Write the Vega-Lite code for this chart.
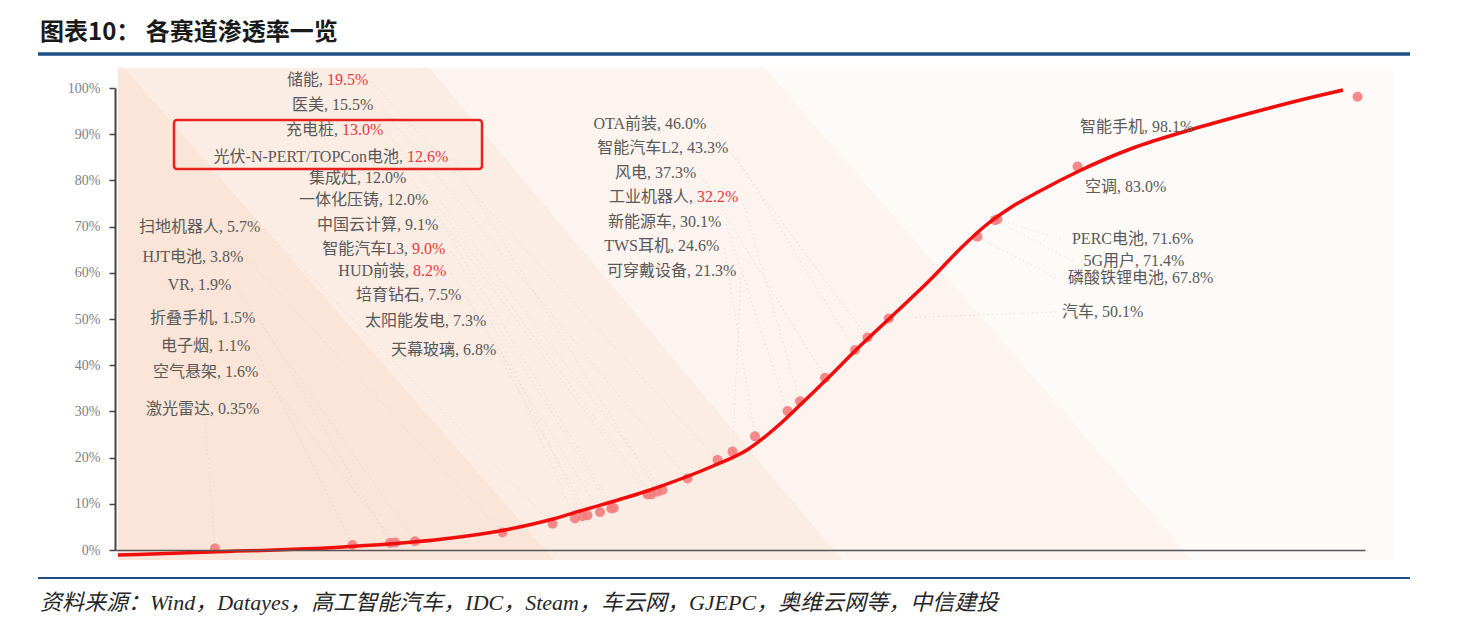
{
  "$schema": "https://vega.github.io/schema/vega-lite/v6.json",
  "width": 1250,
  "height": 462,
  "autosize": {"type": "none"},
  "padding": {"left": 115, "top": 88, "right": 105, "bottom": 78},
  "background": "white",
  "config": {"view": {"stroke": null}, "font": "Liberation Serif, Noto Sans CJK SC"},
  "resolve": {"axis": {"x": "independent", "y": "independent"}},
  "datasets": {
    "bands": [
      {"band": "b1", "yy": 104.33, "xl": 0.24, "xr": 0.8},
      {"band": "b1", "yy": -2.16, "xl": 0.24, "xr": 35.2},
      {"band": "b2", "yy": 104.33, "xl": 0.8, "xr": 25.2},
      {"band": "b2", "yy": -2.16, "xl": 35.2, "xr": 58.2},
      {"band": "b3", "yy": 104.33, "xl": 25.2, "xr": 52.0},
      {"band": "b3", "yy": -2.16, "xl": 58.2, "xr": 86.2},
      {"band": "b4", "yy": 104.33, "xl": 52.0, "xr": 102.2},
      {"band": "b4", "yy": -2.16, "xl": 86.2, "xr": 102.2}
    ],
    "curve": [
      {"cx": 0.24, "cy": -1.08}, {"cx": 7.6, "cy": -0.43}, {"cx": 18.24, "cy": 0.65},
      {"cx": 26.24, "cy": 2.38}, {"cx": 31.6, "cy": 4.55}, {"cx": 35.04, "cy": 6.71},
      {"cx": 37.2, "cy": 8.44}, {"cx": 42.56, "cy": 12.77}, {"cx": 47.84, "cy": 18.18},
      {"cx": 50.56, "cy": 21.65}, {"cx": 53.2, "cy": 27.27}, {"cx": 54.64, "cy": 30.95},
      {"cx": 57.12, "cy": 37.45}, {"cx": 59.28, "cy": 43.29}, {"cx": 62.08, "cy": 50.43},
      {"cx": 65.44, "cy": 59.09}, {"cx": 67.6, "cy": 65.15}, {"cx": 69.6, "cy": 70.13},
      {"cx": 71.6, "cy": 74.03}, {"cx": 74.0, "cy": 77.71}, {"cx": 76.96, "cy": 81.82},
      {"cx": 81.44, "cy": 87.01}, {"cx": 86.0, "cy": 90.91}, {"cx": 90.56, "cy": 94.37},
      {"cx": 95.84, "cy": 98.05}, {"cx": 98.24, "cy": 99.57}
    ],
    "items": [
      {"name": "激光雷达", "value": 0.35, "pct": "0.35%", "hl": false, "pos": 8.0, "lx": 8.24, "ly": 30.52, "sx": 7.2, "sy": 28.57},
      {"name": "电子烟", "value": 1.1, "pct": "1.1%", "hl": false, "pos": 19.0, "lx": 8.16, "ly": 44.16, "sx": 11.2, "sy": 43.72},
      {"name": "折叠手机", "value": 1.5, "pct": "1.5%", "hl": false, "pos": 22.0, "lx": 8.56, "ly": 50.22, "sx": 11.68, "sy": 49.78},
      {"name": "空气悬架", "value": 1.6, "pct": "1.6%", "hl": false, "pos": 22.4, "lx": 8.8, "ly": 38.53, "sx": 11.84, "sy": 38.1},
      {"name": "VR", "value": 1.9, "pct": "1.9%", "hl": false, "pos": 24.0, "lx": 6.64, "ly": 57.36, "sx": 9.6, "sy": 56.93},
      {"name": "HJT电池", "value": 3.8, "pct": "3.8%", "hl": false, "pos": 31.0, "lx": 7.6, "ly": 63.42, "sx": 10.56, "sy": 62.99},
      {"name": "扫地机器人", "value": 5.7, "pct": "5.7%", "hl": false, "pos": 35.0, "lx": 8.96, "ly": 69.91, "sx": 11.92, "sy": 69.48},
      {"name": "天幕玻璃", "value": 6.8, "pct": "6.8%", "hl": false, "pos": 36.8, "lx": 27.84, "ly": 43.29, "sx": 30.96, "sy": 42.86},
      {"name": "太阳能发电", "value": 7.3, "pct": "7.3%", "hl": false, "pos": 37.4, "lx": 27.04, "ly": 49.57, "sx": 30.16, "sy": 49.13},
      {"name": "培育钻石", "value": 7.5, "pct": "7.5%", "hl": false, "pos": 37.8, "lx": 25.04, "ly": 55.19, "sx": 28.16, "sy": 54.76},
      {"name": "HUD前装", "value": 8.2, "pct": "8.2%", "hl": true, "pos": 38.8, "lx": 23.84, "ly": 60.39, "sx": 26.88, "sy": 59.96},
      {"name": "智能汽车L3", "value": 9.0, "pct": "9.0%", "hl": true, "pos": 39.7, "lx": 23.76, "ly": 65.15, "sx": 26.88, "sy": 64.72},
      {"name": "中国云计算", "value": 9.1, "pct": "9.1%", "hl": false, "pos": 39.9, "lx": 23.2, "ly": 70.35, "sx": 26.32, "sy": 69.91},
      {"name": "集成灶", "value": 12.0, "pct": "12.0%", "hl": false, "pos": 42.6, "lx": 20.0, "ly": 80.52, "sx": 23.68, "sy": 80.09},
      {"name": "一体化压铸", "value": 12.0, "pct": "12.0%", "hl": false, "pos": 42.9, "lx": 21.76, "ly": 75.76, "sx": 25.52, "sy": 75.32},
      {"name": "光伏-N-PERT/TOPCon电池", "value": 12.6, "pct": "12.6%", "hl": true, "pos": 43.4, "lx": 23.36, "ly": 85.06, "sx": 26.96, "sy": 84.63},
      {"name": "充电桩", "value": 13.0, "pct": "13.0%", "hl": true, "pos": 43.8, "lx": 18.16, "ly": 90.91, "sx": 21.76, "sy": 90.48},
      {"name": "医美", "value": 15.5, "pct": "15.5%", "hl": false, "pos": 45.8, "lx": 17.36, "ly": 96.32, "sx": 21.28, "sy": 95.89},
      {"name": "储能", "value": 19.5, "pct": "19.5%", "hl": true, "pos": 48.2, "lx": 16.96, "ly": 101.73, "sx": 20.56, "sy": 101.3},
      {"name": "可穿戴设备", "value": 21.3, "pct": "21.3%", "hl": false, "pos": 49.4, "lx": 46.4, "ly": 60.39, "sx": 50.08, "sy": 59.96},
      {"name": "TWS耳机", "value": 24.6, "pct": "24.6%", "hl": false, "pos": 51.2, "lx": 45.04, "ly": 65.8, "sx": 48.72, "sy": 65.37},
      {"name": "新能源车", "value": 30.1, "pct": "30.1%", "hl": false, "pos": 53.8, "lx": 45.2, "ly": 71.0, "sx": 48.88, "sy": 70.56},
      {"name": "工业机器人", "value": 32.2, "pct": "32.2%", "hl": true, "pos": 54.8, "lx": 46.56, "ly": 76.41, "sx": 50.16, "sy": 75.97},
      {"name": "风电", "value": 37.3, "pct": "37.3%", "hl": false, "pos": 56.8, "lx": 43.2, "ly": 81.6, "sx": 46.88, "sy": 81.17},
      {"name": "智能汽车L2", "value": 43.3, "pct": "43.3%", "hl": false, "pos": 59.2, "lx": 45.76, "ly": 87.01, "sx": 49.36, "sy": 86.58},
      {"name": "OTA前装", "value": 46.0, "pct": "46.0%", "hl": false, "pos": 60.2, "lx": 44.0, "ly": 92.21, "sx": 47.68, "sy": 91.77},
      {"name": "汽车", "value": 50.1, "pct": "50.1%", "hl": false, "pos": 61.9, "lx": 78.96, "ly": 51.52, "sx": 75.28, "sy": 51.52},
      {"name": "磷酸铁锂电池", "value": 67.8, "pct": "67.8%", "hl": false, "pos": 69.0, "lx": 84.56, "ly": 58.87, "sx": 75.28, "sy": 58.87},
      {"name": "5G用户", "value": 71.4, "pct": "71.4%", "hl": false, "pos": 70.4, "lx": 82.24, "ly": 62.55, "sx": 76.64, "sy": 62.55},
      {"name": "PERC电池", "value": 71.6, "pct": "71.6%", "hl": false, "pos": 70.6, "lx": 82.96, "ly": 67.32, "sx": 75.68, "sy": 67.32},
      {"name": "空调", "value": 83.0, "pct": "83.0%", "hl": false, "pos": 77.0, "lx": 80.8, "ly": 78.57, "sx": null, "sy": null},
      {"name": "智能手机", "value": 98.1, "pct": "98.1%", "hl": false, "pos": 99.4, "lx": 82.96, "ly": 91.56, "sx": null, "sy": null}
    ]
  },
  "layer": [
    {
      "data": {"name": "bands"},
      "mark": {"type": "area", "orient": "horizontal"},
      "encoding": {
        "y": {"field": "yy", "type": "quantitative", "scale": {"domain": [0, 100], "nice": false}, "title": null,
          "axis": {"values": [0, 10, 20, 30, 40, 50, 60, 70, 80, 90, 100], "labelExpr": "datum.value + '%'", "domainColor": "#444444", "domainWidth": 2, "tickColor": "#444444", "tickWidth": 1.5, "tickSize": 6, "labelColor": "#7f7f7f", "labelFont": "Liberation Serif", "labelFontSize": 14, "labelPadding": 9, "grid": false, "title": null, "zindex": 2}},
        "x": {"field": "xl", "type": "quantitative", "scale": {"domain": [0, 100], "nice": false, "zero": false}, "stack": null, "title": null,
          "axis": {"domain": true, "domainColor": "#555555", "domainWidth": 1.5, "ticks": false, "labels": false, "grid": false, "title": null, "zindex": 2}},
        "x2": {"field": "xr"},
        "color": {"field": "band", "type": "nominal", "scale": {"domain": ["b1", "b2", "b3", "b4"], "range": ["#fbe5d8", "#fcede4", "#fdf4ef", "#fefaf8"]}, "legend": null}
      }
    },
    {
      "data": {"name": "items"},
      "transform": [{"filter": "datum.sx != null"}],
      "mark": {"type": "rule", "color": "#d5ccc7", "strokeWidth": 1, "strokeDash": [1.5, 3], "opacity": 0.55},
      "encoding": {
        "x": {"field": "sx", "type": "quantitative", "scale": {"domain": [0, 100], "nice": false, "zero": false}, "axis": null},
        "y": {"field": "sy", "type": "quantitative", "scale": {"domain": [0, 100], "nice": false}, "axis": null},
        "x2": {"field": "pos"},
        "y2": {"field": "value"}
      }
    },
    {
      "data": {"name": "items"},
      "mark": {"type": "circle", "size": 100, "color": "#f47d7d", "opacity": 0.9},
      "encoding": {
        "x": {"field": "pos", "type": "quantitative", "scale": {"domain": [0, 100], "nice": false, "zero": false}, "axis": null},
        "y": {"field": "value", "type": "quantitative", "scale": {"domain": [0, 100], "nice": false}, "axis": null}
      }
    },
    {
      "data": {"name": "curve"},
      "mark": {"type": "line", "color": "#f20d0d", "strokeWidth": 3.5, "interpolate": "monotone"},
      "encoding": {
        "x": {"field": "cx", "type": "quantitative", "scale": {"domain": [0, 100], "nice": false, "zero": false}, "axis": null},
        "y": {"field": "cy", "type": "quantitative", "scale": {"domain": [0, 100], "nice": false}, "axis": null}
      }
    },
    {
      "data": {"name": "items"},
      "mark": {"type": "text", "align": "right", "baseline": "middle", "dx": -8, "fontSize": 16, "color": "#595959", "font": "Liberation Serif, Noto Sans CJK SC"},
      "encoding": {
        "x": {"field": "lx", "type": "quantitative", "scale": {"domain": [0, 100], "nice": false, "zero": false}, "axis": null},
        "y": {"field": "ly", "type": "quantitative", "scale": {"domain": [0, 100], "nice": false}, "axis": null},
        "text": {"field": "name"}
      }
    },
    {
      "data": {"name": "items"},
      "mark": {"type": "text", "align": "left", "baseline": "middle", "dx": -8, "fontSize": 16, "color": "#595959", "text": ",", "font": "Liberation Serif"},
      "encoding": {
        "x": {"field": "lx", "type": "quantitative", "scale": {"domain": [0, 100], "nice": false, "zero": false}, "axis": null},
        "y": {"field": "ly", "type": "quantitative", "scale": {"domain": [0, 100], "nice": false}, "axis": null}
      }
    },
    {
      "data": {"name": "items"},
      "mark": {"type": "text", "align": "left", "baseline": "middle", "fontSize": 16, "font": "Liberation Serif"},
      "encoding": {
        "x": {"field": "lx", "type": "quantitative", "scale": {"domain": [0, 100], "nice": false, "zero": false}, "axis": null},
        "y": {"field": "ly", "type": "quantitative", "scale": {"domain": [0, 100], "nice": false}, "axis": null},
        "text": {"field": "pct"},
        "color": {"condition": {"test": "datum.hl", "value": "#e8383d"}, "value": "#595959"}
      }
    },
    {
      "data": {"values": [{"x1": 4.72, "x2": 29.36, "y1": 93.07, "y2": 82.47}]},
      "mark": {"type": "rect", "filled": false, "stroke": "#e8221f", "strokeWidth": 2.5, "cornerRadius": 3},
      "encoding": {
        "x": {"field": "x1", "type": "quantitative", "scale": {"domain": [0, 100], "nice": false, "zero": false}, "axis": null},
        "x2": {"field": "x2"},
        "y": {"field": "y1", "type": "quantitative", "scale": {"domain": [0, 100], "nice": false}, "axis": null},
        "y2": {"field": "y2"}
      }
    },
    {
      "data": {"values": [{"x1": -6.16, "x2": 103.6, "y": 107.36}]},
      "mark": {"type": "rule", "color": "#1d4e89", "strokeWidth": 3.5},
      "encoding": {
        "x": {"field": "x1", "type": "quantitative", "scale": {"domain": [0, 100], "nice": false, "zero": false}, "axis": null},
        "x2": {"field": "x2"},
        "y": {"field": "y", "type": "quantitative", "scale": {"domain": [0, 100], "nice": false}, "axis": null}
      }
    },
    {
      "data": {"values": [{"x1": -6.16, "x2": 103.6, "y": -6.06}]},
      "mark": {"type": "rule", "color": "#1d4e89", "strokeWidth": 2.2},
      "encoding": {
        "x": {"field": "x1", "type": "quantitative", "scale": {"domain": [0, 100], "nice": false, "zero": false}, "axis": null},
        "x2": {"field": "x2"},
        "y": {"field": "y", "type": "quantitative", "scale": {"domain": [0, 100], "nice": false}, "axis": null}
      }
    },
    {
      "data": {"values": [{"t": "图表10：  各赛道渗透率一览", "x": -6.0, "y": 111.9}]},
      "mark": {"type": "text", "align": "left", "baseline": "middle", "fontSize": 24, "fontWeight": "bold", "color": "#1a1a1a", "font": "Noto Sans CJK SC"},
      "encoding": {
        "x": {"field": "x", "type": "quantitative", "scale": {"domain": [0, 100], "nice": false, "zero": false}, "axis": null},
        "y": {"field": "y", "type": "quantitative", "scale": {"domain": [0, 100], "nice": false}, "axis": null},
        "text": {"field": "t"}
      }
    },
    {
      "data": {"values": [{"t": "资料来源：Wind，Datayes，高工智能汽车，IDC，Steam，车云网，GJEPC，奥维云网等，中信建投", "x": -6.0, "y": -11.47}]},
      "mark": {"type": "text", "align": "left", "baseline": "middle", "fontSize": 22, "fontStyle": "italic", "color": "#262626", "font": "Liberation Serif, Noto Sans CJK SC"},
      "encoding": {
        "x": {"field": "x", "type": "quantitative", "scale": {"domain": [0, 100], "nice": false, "zero": false}, "axis": null},
        "y": {"field": "y", "type": "quantitative", "scale": {"domain": [0, 100], "nice": false}, "axis": null},
        "text": {"field": "t"}
      }
    }
  ]
}
